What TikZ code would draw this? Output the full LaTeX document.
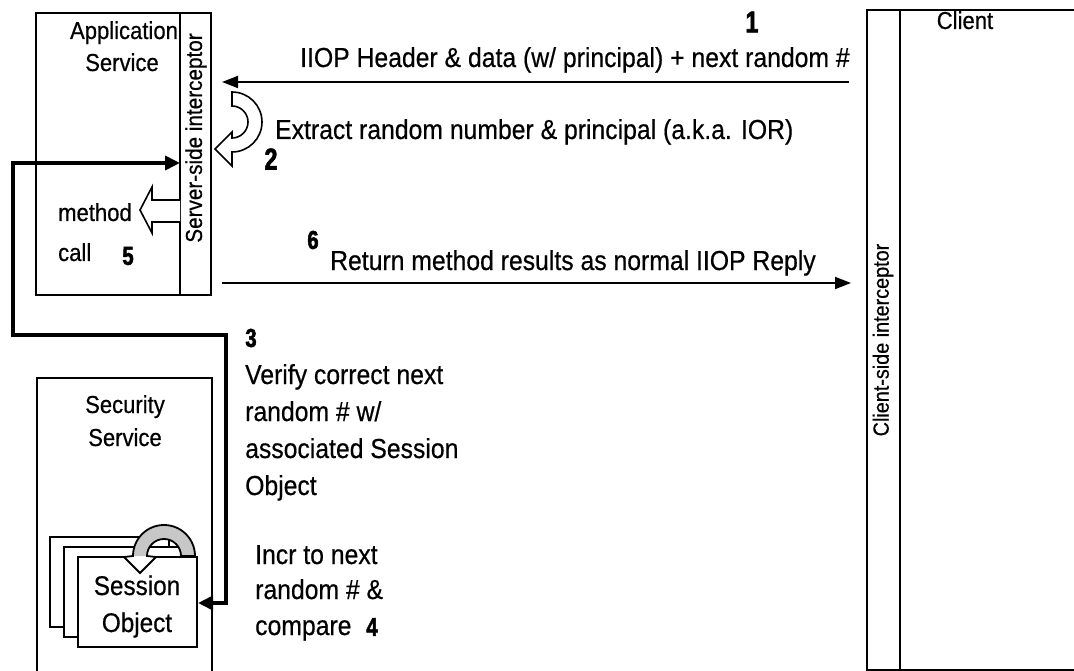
\documentclass[tikz,border=0pt]{standalone}
\usepackage{fontspec}
\setmainfont{Liberation Sans}[FakeStretch=0.9, FakeBold=0.5]
\newfontfamily\numfont{Liberation Sans}[FakeStretch=0.78, BoldFeatures={FakeBold=2}]
\usetikzlibrary{arrows.meta}

\tikzset{
  lbl/.style={inner sep=0pt, font=\fontsize{27.5}{30}\selectfont},
  boxlbl/.style={inner sep=0pt, font=\fontsize{24.5}{26}\selectfont},
  sesslbl/.style={inner sep=0pt, font=\fontsize{27}{29}\selectfont},
  num/.style={inner sep=0pt, font=\numfont\bfseries\fontsize{26}{26}\selectfont},
  bignum/.style={inner sep=0pt, font=\numfont\bfseries\fontsize{30}{30}\selectfont},
  frame/.style={draw, line width=1.8pt, inner sep=0pt, outer sep=0pt, anchor=north west},
  msg/.style={line width=1.8pt, -{Triangle[length=16pt,width=12pt]}},
  link/.style={line width=3.8pt, {Triangle[length=15pt,width=14pt]}-{Triangle[length=15pt,width=14pt]}},
  hollow/.style={draw, fill=white, line width=1.6pt, line join=miter},
}

\begin{document}
\begin{tikzpicture}[x=1pt,y=-1pt]
\useasboundingbox (0,0) rectangle (1074,671);

% Application service and its server-side interceptor
\node[frame, minimum width=175pt, minimum height=282pt] (app) at (36,13) {};
\node[frame, minimum width=31pt, minimum height=282pt] (srv) at (180,13) {};
\node[boxlbl, anchor=base] (appA) at (124,39) {Application};
\node[boxlbl, anchor=base] (appB) at (122,71) {Service};
\node[inner sep=0pt, font=\fontsize{23}{25}\selectfont, rotate=90] (srvlbl) at (196,138) {Server-side interceptor};

% Client and its client-side interceptor
\node[frame, minimum width=215pt, minimum height=660pt] (cli) at (867,10) {};
\node[frame, minimum width=33pt, minimum height=660pt] (cint) at (867,10) {};
\node[boxlbl, anchor=base] (clilbl) at (965,29) {Client};
\node[inner sep=0pt, font=\fontsize{22}{24}\selectfont, rotate=90] (cintlbl) at (883,340) {Client-side interceptor};

% Security service with its stack of session objects
\node[frame, minimum width=175pt, minimum height=300pt] (sec) at (37,378) {};
\node[boxlbl, anchor=base] (secA) at (125,413) {Security};
\node[boxlbl, anchor=base] (secB) at (125,446) {Service};
\node[frame, fill=white, minimum width=119pt, minimum height=90pt] (so3) at (50,537) {};
\node[frame, fill=white, minimum width=119pt, minimum height=90pt] (so2) at (64,547) {};
\node[frame, fill=white, minimum width=119pt, minimum height=90pt] (so1) at (78,557) {};
\node[sesslbl, anchor=base] (soA) at (137,595) {Session};
\node[sesslbl, anchor=base] (soB) at (137,632) {Object};

% Looping arrow on top of the session objects
\fill[white] (195,556) arc[start angle=0,end angle=-180,radius=31] -- (124,557) -- (140,573) -- (156,557) -- (147,556) arc[start angle=-180,end angle=0,radius=17] -- cycle;
\fill[black!22] (195,556) arc[start angle=0,end angle=-180,radius=31] -- (147,556) arc[start angle=-180,end angle=0,radius=17] -- cycle;
\draw[line width=1.8pt, line join=miter] (195,556) arc[start angle=0,end angle=-180,radius=31] -- (124,557) -- (140,573) -- (156,557) -- (147,556) arc[start angle=-180,end angle=0,radius=17] -- cycle;

% Message 1: request from client
\coordinate (m1s) at (849,82);
\coordinate (m1e) at (222,82);
\draw[msg] (m1s) -- (m1e);
\node[lbl, anchor=base west] (t1) at (300,67) {IIOP Header \& data (w/ principal) + next random \#};
\node[bignum] (n1) at (752,22) {1};

% Step 2: extraction inside the interceptor
\draw[hollow] (232,92) arc[start angle=-90,end angle=90,radius=30] -- (232,166) -- (215,149) -- (232,132) -- (232,138) arc[start angle=90,end angle=-90,radius=16] -- cycle;
\node[lbl, anchor=base west] (t2) at (275,139) {Extract random number \& principal (a.k.a. IOR)};
\node[bignum] (n2) at (271,159) {2};

% Step 5: method call
\draw[hollow] (180,200) -- (152,200) -- (152,187) -- (140,210) -- (152,233) -- (152,222) -- (180,222);
\node[boxlbl, anchor=base west] (t5a) at (58,221) {method};
\node[boxlbl, anchor=base west] (t5b) at (58,261) {call};
\node[num] (n5) at (128,256) {5};

% Message 6: reply to client
\coordinate (m6s) at (222,283);
\coordinate (m6e) at (851,283);
\draw[msg] (m6s) -- (m6e);
\node[lbl, anchor=base west] (t6) at (330,270) {Return method results as normal IIOP Reply};
\node[num] (n6) at (313,240) {6};

% Steps 3 and 4: verification against the session object
\coordinate (lkA) at (180,163);
\coordinate (lkB) at (198,603);
\draw[link, line join=miter] (lkA) -- (13,163) -- (13,335) -- (226,335) -- (226,603) -- (lkB);
\node[num] (n3) at (251,338) {3};
\node[lbl, anchor=base west] (t3a) at (245,384) {Verify correct next};
\node[lbl, anchor=base west] (t3b) at (245,421) {random \# w/};
\node[lbl, anchor=base west] (t3c) at (245,458) {associated Session};
\node[lbl, anchor=base west] (t3d) at (245,495) {Object};
\node[lbl, anchor=base west] (t4a) at (255,564) {Incr to next};
\node[lbl, anchor=base west] (t4b) at (255,599) {random \# \&};
\node[lbl, anchor=base west] (t4c) at (255,635) {compare};
\node[num] (n4) at (372,627) {4};
\end{tikzpicture}
\end{document}
